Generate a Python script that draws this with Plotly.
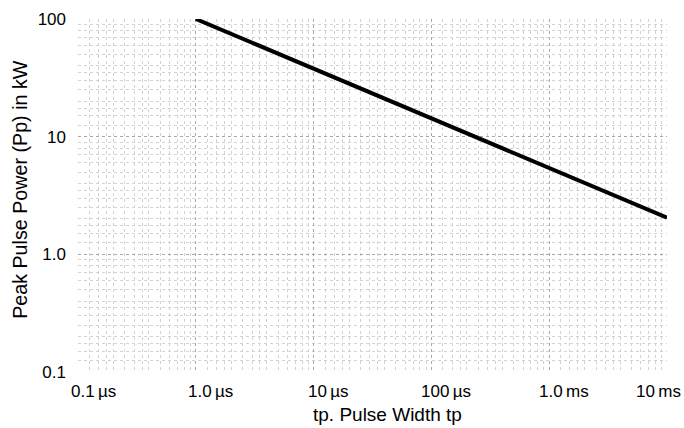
import plotly.graph_objects as go
import numpy as np

# Data
pulse_width_s = [1.0e-6, 1.0e-2]
peak_power_kw = [100, 2.05]

x_tick_vals = [1e-7, 1e-6, 1e-5, 1e-4, 1e-3, 1e-2]
x_tick_text = ["0.1\u2009µs", "1.0\u2009µs", "10\u2009µs", "100\u2009µs", "1.0\u2009ms", "10\u2009ms"]
y_tick_vals = [0.1, 1, 10, 100]
y_tick_text = ["0.1", "1.0", "10", "100"]

x_title = "tp. Pulse Width tp"
y_title = "Peak Pulse Power (Pp) in kW"


def minor_vals(lo_exp, hi_exp):
    vals = []
    for e in range(lo_exp, hi_exp):
        for m in [1.25, 1.5, 1.75, 2, 2.5, 3, 3.5, 4, 5, 6, 7, 8, 9]:
            vals.append(m * 10.0 ** e)
    return vals


fig = go.Figure()
fig.add_trace(go.Scatter(
    x=pulse_width_s, y=peak_power_kw, mode="lines",
    line=dict(color="black", width=4), showlegend=False,
))

tick_font = dict(family="Liberation Sans, Arial, sans-serif", size=17, color="black")
title_font = dict(family="Liberation Sans, Arial, sans-serif", size=19, color="black")
ytitle_font = dict(family="Liberation Sans, Arial, sans-serif", size=19.7, color="black")

fig.update_xaxes(
    type="log", range=[np.log10(x_tick_vals[0]), np.log10(x_tick_vals[-1])],
    tickmode="array", tickvals=x_tick_vals, ticktext=[""] * len(x_tick_vals),
    showgrid=True, gridcolor="#a8a8a8", griddash="dot", gridwidth=1,
    minor=dict(tickmode="array", tickvals=minor_vals(-7, -2), showgrid=True,
               gridcolor="#d2d2d2", griddash="dot", gridwidth=1, ticks=""),
    showline=False, zeroline=False, ticks="", automargin=False,
)
fig.update_yaxes(
    type="log", range=[np.log10(y_tick_vals[0]), np.log10(y_tick_vals[-1])],
    tickmode="array", tickvals=y_tick_vals, ticktext=y_tick_text,
    showgrid=True, gridcolor="#a8a8a8", griddash="dot", gridwidth=1,
    minor=dict(tickmode="array", tickvals=minor_vals(-1, 2), showgrid=True,
               gridcolor="#d2d2d2", griddash="dot", gridwidth=1, ticks=""),
    showline=False, zeroline=False, ticks="", automargin=False,
    ticklabelstandoff=11, tickfont=tick_font,
)

# x tick labels (offset slightly right of their gridlines, last one kept inside)
annotations = []
for i, (v, t) in enumerate(zip(x_tick_vals, x_tick_text)):
    last = i == len(x_tick_vals) - 1
    annotations.append(dict(
        x=np.log10(v), xref="x", y=0, yref="paper",
        text=t, showarrow=False, font=tick_font,
        xanchor="right" if last else "center", yanchor="top",
        xshift=16 if last else 15, yshift=-8,
    ))
annotations.append(dict(
    x=0.526, xref="paper", y=0, yref="paper", text=x_title, showarrow=False,
    font=title_font, xanchor="center", yanchor="top", yshift=-30,
))
annotations.append(dict(
    x=0, xref="paper", y=0.516, yref="paper", text=y_title, showarrow=False,
    font=ytitle_font, textangle=-90, xanchor="center", yanchor="middle", xshift=-58,
))

fig.update_layout(
    width=684, height=428,
    margin=dict(l=78, r=17, t=19, b=56),
    paper_bgcolor="white", plot_bgcolor="white",
    annotations=annotations,
)

# remove the page's default body margin so the figure fills the window exactly
fig.write_html("out.html", config={"displayModeBar": False},
               post_script="document.body.style.margin='0';")
